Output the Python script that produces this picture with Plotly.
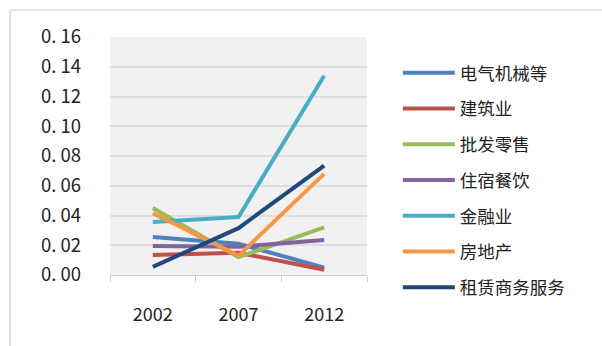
import plotly.graph_objects as go

years = ["2002", "2007", "2012"]
series_names = ["电气机械等", "建筑业", "批发零售", "住宿餐饮", "金融业", "房地产", "租赁商务服务"]
elec = [0.0255, 0.021, 0.005]
constr = [0.0134, 0.015, 0.0035]
retail = [0.045, 0.012, 0.032]
hotel = [0.0195, 0.019, 0.0235]
finance = [0.0357, 0.039, 0.134]
realty = [0.0415, 0.013, 0.068]
leasing = [0.0055, 0.0315, 0.0735]
colors = ["#4F81BD", "#C0504D", "#9BBB59", "#8064A2", "#4BACC6", "#F79646", "#1F497D"]
y_ticks = [0, 0.02, 0.04, 0.06, 0.08, 0.10, 0.12, 0.14, 0.16]
y_ticktext = ["0. 00", "0. 02", "0. 04", "0. 06", "0. 08", "0. 10", "0. 12", "0. 14", "0. 16"]

values = [elec, constr, retail, hotel, finance, realty, leasing]
font = "Noto Sans CJK SC"

fig = go.Figure()
for i, (name, vals, c) in enumerate(zip(series_names, values, colors)):
    fig.add_trace(go.Scatter(x=years, y=vals, name=name, mode="lines",
                             line=dict(color=c, width=4), legendgroup=str(i)))

fig.update_layout(
    width=602, height=346,
    margin=dict(l=110, r=235, t=37, b=71),
    paper_bgcolor="white", plot_bgcolor="#f1f1f1",
    font=dict(family=font, color="#222222"),
    showlegend=True,
    legend=dict(x=1.12, y=0.925, xanchor="left", yanchor="top",
                font=dict(family=font, size=17.5, color="#222222"),
                tracegroupgap=10, itemwidth=52, bgcolor="rgba(0,0,0,0)",
                maxheight=400),
    xaxis=dict(type="category", tickson="boundaries", ticks="outside", ticklen=6,
               tickcolor="#d0d0d0", showline=True, linecolor="#d0d0d0", linewidth=1,
               showgrid=False, tickfont=dict(size=18, family=font),
               ticklabelstandoff=23, range=[-0.5, 2.5]),
    yaxis=dict(range=[0, 0.16], tickvals=y_ticks, ticktext=y_ticktext,
               showgrid=True, gridcolor="#dedede", gridwidth=1.5, zeroline=False,
               showline=False, tickfont=dict(size=18.5, family=font),
               ticklabelstandoff=28),
    shapes=[
        dict(type="line", xref="paper", yref="paper", x0=-0.389, x1=-0.389, y0=-0.35, y1=1.113,
             line=dict(color="#d9d9d9", width=1.5)),
        dict(type="line", xref="paper", yref="paper", x0=-0.389, x1=1.95, y0=1.113, y1=1.113,
             line=dict(color="#d9d9d9", width=1.5)),
    ],
)

fig.write_html("out.html")
